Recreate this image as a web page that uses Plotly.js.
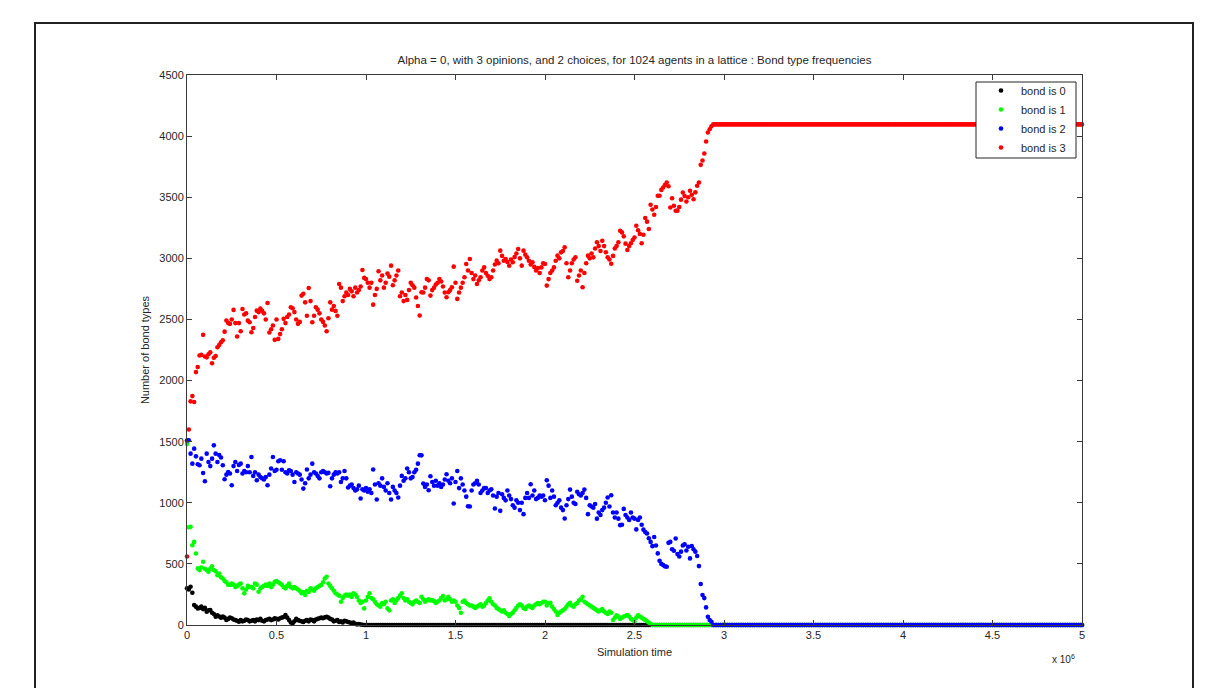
<!DOCTYPE html>
<html>
<head>
<meta charset="utf-8">
<script src="https://cdn.plot.ly/plotly-3.0.1.min.js"></script>
<style>
  html, body { margin: 0; padding: 0; background: #ffffff; }
  #chart { width: 1214px; height: 688px; }
</style>
</head>
<body>
<div id="chart"></div>
<script>
// ---------------- Data ----------------
const chartTitle = "Alpha = 0, with 3 opinions, and 2 choices, for 1024 agents in a lattice : Bond type frequencies";
const xAxisTitle = "Simulation time";
const yAxisTitle = "Number of bond types";
const xScaleLabel = "x 10<sup>6</sup>";

// simulation time is sampled every 0.01 x 10^6 steps, starting at 0
const sampleStart = 0;
const sampleStep = 0.01;

const seriesNames = ["bond is 0", "bond is 1", "bond is 2", "bond is 3"];

const xTickVals = [0, 0.5, 1, 1.5, 2, 2.5, 3, 3.5, 4, 4.5, 5];
const xTickText = ["0", "0.5", "1", "1.5", "2", "2.5", "3", "3.5", "4", "4.5", "5"];
const yTickVals = [0, 500, 1000, 1500, 2000, 2500, 3000, 3500, 4000, 4500];
const yTickText = ["0", "500", "1000", "1500", "2000", "2500", "3000", "3500", "4000", "4500"];

// bond is 0 (black)
const bond0 = [
300,290,313,264,163,150,136,140,150,130,
140,109,120,122,100,90,68,80,70,60,
70,60,41,50,60,55,45,40,35,27,
40,30,35,45,40,30,35,40,30,45,
40,50,35,30,40,45,50,40,45,55,
50,45,55,60,65,82,60,40,20,15,
30,50,40,35,30,25,35,40,30,45,
40,30,45,50,55,60,55,62,68,60,
50,45,30,35,40,25,30,20,35,30,
25,20,15,20,10,5,8,4,2,0,
0,0,0,0,0,0,0,0,0,0,0,0,0,0,0,0,0,0,0,0,
0,0,0,0,0,0,0,0,0,0,0,0,0,0,0,0,0,0,0,0,
0,0,0,0,0,0,0,0,0,0,0,0,0,0,0,0,0,0,0,0,
0,0,0,0,0,0,0,0,0,0,0,0,0,0,0,0,0,0,0,0,
0,0,0,0,0,0,0,0,0,0,0,0,0,0,0,0,0,0,0,0,
0,0,0,0,0,0,0,0,0,0,0,0,0,0,0,0,0,0,0,0,
0,0,0,0,0,0,0,0,0,0,0,0,0,0,0,0,0,0,0,0,
0,0,0,0,0,0,0,0,0,0,0,0,0,0,0,0,0,0,0,0,
0,0,0,0,0,0,0,0,0,0,0,0,0,0,0,0,0,0,0,0,
0,0,0,0,0,0,0,0,0,0,0,0,0,0,0,0,0,0,0,0,
0,0,0,0,0,0,0,0,0,0,0,0,0,0,0,0,0,0,0,0,
0,0,0,0,0,0,0,0,0,0,0,0,0,0,0,0,0,0,0,0,
0,0,0,0,0,0,0,0,0,0,0,0,0,0,0,0,0,0,0,0,
0,0,0,0,0,0,0,0,0,0,0,0,0,0,0,0,0,0,0,0,
0,0,0,0,0,0,0,0,0,0,0,0,0,0,0,0,0,0,0,0,
0,0,0,0,0,0,0,0,0,0,0,0,0,0,0,0,0,0,0,0,
0,0,0,0,0,0,0,0,0,0,0,0,0,0,0,0,0,0,0,0,
0,0,0,0,0,0,0,0,0,0,0,0,0,0,0,0,0,0,0,0,
0,0,0,0,0,0,0,0,0,0,0,0,0,0,0,0,0,0,0,0,
0,0,0,0,0,0,0,0,0,0,0,0,0,0,0,0,0,0,0,0,
0
];

// bond is 1 (green)
const bond1 = [
1480,800,803,653,680,585,463,449,470,517,
460,450,435,460,480,450,440,408,420,390,
380,360,350,330,327,340,330,310,320,330,
340,300,259,290,320,310,313,300,340,330,
272,300,310,320,330,320,340,310,330,354,
360,350,340,330,310,300,320,340,310,300,
310,300,290,280,260,270,245,280,270,300,
290,280,300,310,320,327,350,380,395,340,
320,300,280,260,250,240,190,220,240,250,
240,250,230,259,250,230,200,180,190,136,
200,230,259,220,210,190,170,160,150,180,
170,190,136,120,200,210,180,200,220,240,
259,220,200,210,190,180,170,190,200,190,
180,231,210,190,200,210,200,205,195,180,
190,200,220,237,200,210,230,210,190,200,
190,160,140,100,190,200,180,170,160,160,
150,140,150,160,170,150,160,180,200,218,
190,170,160,140,130,120,110,120,100,90,
73,90,100,120,140,160,170,160,140,130,
150,160,150,140,160,170,180,170,180,190,
190,160,180,182,150,130,110,82,100,110,
120,130,150,170,182,160,150,170,180,200,
210,231,190,180,170,160,150,140,130,120,
110,120,130,110,100,90,110,100,41,60,
80,70,50,60,70,75,82,70,50,40,
30,60,80,70,60,50,40,30,20,8,
0,0,0,0,0,0,0,0,0,0,0,0,0,0,0,0,0,0,0,0,
0,0,0,0,0,0,0,0,0,0,0,0,0,0,0,0,0,0,0,0,
0,0,0,0,0,0,0,0,0,0,0,0,0,0,0,0,0,0,0,0,
0,0,0,0,0,0,0,0,0,0,0,0,0,0,0,0,0,0,0,0,
0,0,0,0,0,0,0,0,0,0,0,0,0,0,0,0,0,0,0,0,
0,0,0,0,0,0,0,0,0,0,0,0,0,0,0,0,0,0,0,0,
0,0,0,0,0,0,0,0,0,0,0,0,0,0,0,0,0,0,0,0,
0,0,0,0,0,0,0,0,0,0,0,0,0,0,0,0,0,0,0,0,
0,0,0,0,0,0,0,0,0,0,0,0,0,0,0,0,0,0,0,0,
0,0,0,0,0,0,0,0,0,0,0,0,0,0,0,0,0,0,0,0,
0,0,0,0,0,0,0,0,0,0,0,0,0,0,0,0,0,0,0,0,
0,0,0,0,0,0,0,0,0,0,0,0,0,0,0,0,0,0,0,0,
0
];

// bond is 2 (blue)
const bond2 = [
1510,1511,1402,1320,1443,1380,1315,1307,1361,1244,
1176,1402,1334,1300,1361,1470,1402,1334,1390,1370,
1307,1192,1230,1252,1240,1143,1300,1334,1260,1310,
1320,1240,1260,1250,1300,1250,1375,1220,1250,1184,
1230,1210,1200,1190,1210,1143,1230,1280,1375,1260,
1270,1340,1348,1270,1340,1250,1240,1266,1260,1230,
1170,1250,1240,1230,1190,1116,1160,1272,1200,1230,
1320,1250,1240,1220,1200,1250,1260,1250,1240,1245,
1135,1200,1230,1250,1240,1250,1170,1200,1260,1200,
1125,1140,1150,1120,1100,1110,1140,1035,1110,1100,
1120,1090,1110,1080,1272,1150,1027,1160,1140,1200,
1130,1100,1160,1080,1027,1130,1100,1080,1043,1140,
1220,1180,1200,1280,1250,1200,1210,1250,1270,1320,
1389,1388,1157,1130,1150,1103,1217,1170,1140,1180,
1140,1160,1130,1150,1190,1233,1180,1160,1200,994,
1170,1260,1120,1200,1150,1100,1050,972,970,1100,
1150,1160,1179,1150,1080,1100,1120,1120,1080,1100,
1110,1060,953,1050,1080,934,1070,1040,1020,1100,
1060,1030,980,960,1020,1000,940,1000,907,1040,
1080,1040,1152,1060,1100,1030,1040,1060,1050,1060,
1021,1184,1140,1040,1100,1050,980,1000,1020,960,
940,871,980,1030,1108,1050,1000,990,1090,1070,
1060,1080,1108,1040,907,980,970,960,990,870,
920,900,940,960,1000,1043,970,1062,920,880,
920,870,817,820,950,900,880,860,920,880,
870,782,860,880,820,780,760,749,710,680,
645,720,650,586,525,500,490,480,476,672,
680,620,607,708,580,560,600,650,660,610,
640,545,645,620,600,564,482,335,245,220,
144,68,41,27,
0,0,0,0,0,0,0,0,0,0,0,0,0,0,0,0,0,0,0,0,
0,0,0,0,0,0,0,0,0,0,0,0,0,0,0,0,0,0,0,0,
0,0,0,0,0,0,0,0,0,0,0,0,0,0,0,0,0,0,0,0,
0,0,0,0,0,0,0,0,0,0,0,0,0,0,0,0,0,0,0,0,
0,0,0,0,0,0,0,0,0,0,0,0,0,0,0,0,0,0,0,0,
0,0,0,0,0,0,0,0,0,0,0,0,0,0,0,0,0,0,0,0,
0,0,0,0,0,0,0,0,0,0,0,0,0,0,0,0,0,0,0,0,
0,0,0,0,0,0,0,0,0,0,0,0,0,0,0,0,0,0,0,0,
0,0,0,0,0,0,0,0,0,0,0,0,0,0,0,0,0,0,0,0,
0,0,0,0,0,0,0,0,0,0,0,0,0,0,0,0,0,0,0,0,
0,0,0,0,0,0,0
];

// bond is 3 (red)
const bond3 = [
560,1600,1830,1873,1824,2069,2110,2205,2210,2374,
2197,2190,2215,2232,2142,2186,2200,2273,2290,2314,
2330,2400,2491,2470,2464,2500,2578,2470,2360,2470,
2403,2586,2540,2550,2490,2477,2395,2430,2520,2572,
2560,2590,2570,2550,2500,2635,2393,2420,2450,2333,
2500,2341,2380,2420,2505,2470,2520,2540,2600,2591,
2560,2500,2464,2480,2695,2710,2640,2530,2757,2650,
2477,2530,2600,2580,2550,2500,2480,2450,2403,2510,
2640,2580,2610,2570,2530,2790,2760,2650,2690,2720,
2700,2750,2730,2690,2760,2720,2740,2770,2905,2840,
2830,2800,2760,2800,2621,2700,2750,2894,2820,2860,
2760,2800,2875,2850,2940,2780,2820,2860,2900,2690,
2720,2650,2700,2660,2740,2800,2780,2760,2680,2610,
2532,2722,2720,2760,2831,2820,2695,2740,2760,2785,
2800,2830,2810,2770,2720,2681,2722,2740,2763,2932,
2800,2668,2720,2760,2800,2845,2954,2900,2995,2880,
2830,2860,2790,2820,2845,2900,2926,2880,2858,2830,
2845,2900,2950,2981,2960,3063,3020,2980,2995,2970,
2940,2990,2968,3010,3040,3076,3000,2940,3063,3030,
3008,2980,2950,2968,2930,2900,2920,2880,2926,2960,
2954,2777,2830,2880,2900,2926,2980,3022,3000,3049,
3060,3090,2960,2845,2900,2960,2990,3008,2817,2860,
2900,2763,2880,2960,3022,3000,3040,3008,3080,3131,
3100,3060,3144,3100,3050,3008,2990,2956,3020,3080,
3100,3131,3226,3212,3180,3120,3068,3100,3123,3150,
3171,3267,3230,3200,3123,3193,3330,3300,3240,3438,
3400,3357,3420,3512,3512,3560,3580,3600,3620,3590,
3416,3492,3430,3389,3390,3420,3480,3539,3510,3465,
3500,3553,3520,3484,3540,3594,3620,3765,3800,3858,
3956,4029,4056,4080,
4096,4096,4096,4096,4096,4096,4096,4096,4096,4096,4096,4096,4096,4096,4096,4096,4096,4096,4096,4096,
4096,4096,4096,4096,4096,4096,4096,4096,4096,4096,4096,4096,4096,4096,4096,4096,4096,4096,4096,4096,
4096,4096,4096,4096,4096,4096,4096,4096,4096,4096,4096,4096,4096,4096,4096,4096,4096,4096,4096,4096,
4096,4096,4096,4096,4096,4096,4096,4096,4096,4096,4096,4096,4096,4096,4096,4096,4096,4096,4096,4096,
4096,4096,4096,4096,4096,4096,4096,4096,4096,4096,4096,4096,4096,4096,4096,4096,4096,4096,4096,4096,
4096,4096,4096,4096,4096,4096,4096,4096,4096,4096,4096,4096,4096,4096,4096,4096,4096,4096,4096,4096,
4096,4096,4096,4096,4096,4096,4096,4096,4096,4096,4096,4096,4096,4096,4096,4096,4096,4096,4096,4096,
4096,4096,4096,4096,4096,4096,4096,4096,4096,4096,4096,4096,4096,4096,4096,4096,4096,4096,4096,4096,
4096,4096,4096,4096,4096,4096,4096,4096,4096,4096,4096,4096,4096,4096,4096,4096,4096,4096,4096,4096,
4096,4096,4096,4096,4096,4096,4096,4096,4096,4096,4096,4096,4096,4096,4096,4096,4096,4096,4096,4096,
4096,4096,4096,4096,4096,4096,4096
];

const seriesValues = [bond0, bond1, bond2, bond3];

// ---------------- Styles ----------------
const seriesColors = ["#000000", "#00ff00", "#0000ff", "#ff0000"];
const FONT = "Liberation Sans, Arial, Helvetica, sans-serif";
const INK = "#262626";

const traces = seriesValues.map((vals, k) => ({
  type: "scatter",
  mode: "markers",
  name: seriesNames[k],
  y: vals,
  x0: sampleStart,
  dx: sampleStep,
  cliponaxis: false,
  marker: { color: seriesColors[k], size: 4.6, symbol: "circle", line: { width: 0 } }
}));

const axisCommon = {
  showgrid: false,
  zeroline: false,
  showline: true,
  linecolor: "#3a3a3a",
  linewidth: 1,
  mirror: "ticks",
  ticks: "inside",
  ticklen: 5,
  tickwidth: 1,
  tickcolor: "#3a3a3a",
  tickfont: { family: FONT, size: 11, color: INK },
  fixedrange: true
};

// plot-area pixel helpers for paper placement (plot area: x 187..1082, y 75..625)
const px2paperX = (p) => (p - 187) / 895;
const px2paperY = (p) => (625 - p) / 550;

const layout = {
  width: 1214,
  height: 688,
  paper_bgcolor: "#ffffff",
  plot_bgcolor: "#ffffff",
  margin: { l: 187, r: 132, t: 75, b: 63 },
  font: { family: FONT, size: 11, color: INK },
  title: {
    text: chartTitle,
    font: { family: FONT, size: 11.5, color: INK },
    x: 0.5, xref: "paper", xanchor: "center",
    y: 1 - 60 / 688, yref: "container", yanchor: "middle"
  },
  xaxis: Object.assign({}, axisCommon, {
    range: [0, 5],
    tickmode: "array",
    tickvals: xTickVals,
    ticktext: xTickText,
    title: { text: xAxisTitle, font: { family: FONT, size: 11, color: INK }, standoff: 8 }
  }),
  yaxis: Object.assign({}, axisCommon, {
    range: [0, 4500],
    tickmode: "array",
    tickvals: yTickVals,
    ticktext: yTickText,
    title: { text: yAxisTitle, font: { family: FONT, size: 11, color: INK }, standoff: 7 }
  }),
  showlegend: true,
  legend: {
    x: px2paperX(981), xanchor: "left", xref: "paper",
    y: px2paperY(76), yanchor: "top", yref: "paper",
    bgcolor: "rgba(0,0,0,0)",
    borderwidth: 0,
    font: { family: FONT, size: 11, color: INK },
    tracegroupgap: 0,
    itemwidth: 30
  },
  annotations: [
    {
      text: xScaleLabel,
      xref: "paper", yref: "paper",
      x: px2paperX(1077), y: px2paperY(651),
      xanchor: "right", yanchor: "top",
      showarrow: false,
      font: { family: FONT, size: 10, color: INK }
    }
  ],
  shapes: [
    {
      // figure frame
      type: "rect", xref: "paper", yref: "paper",
      x0: px2paperX(35), x1: px2paperX(1193), y0: px2paperY(700), y1: px2paperY(23),
      line: { color: "#222222", width: 2 },
      fillcolor: "rgba(0,0,0,0)",
      layer: "below"
    },
    {
      // legend box
      type: "rect", xref: "paper", yref: "paper",
      x0: px2paperX(976), x1: px2paperX(1076), y0: px2paperY(158), y1: px2paperY(82),
      line: { color: "#262626", width: 1 },
      fillcolor: "#ffffff",
      layer: "above"
    }
  ]
};

Plotly.newPlot("chart", traces, layout, { staticPlot: true, displayModeBar: false });
</script>
</body>
</html>
